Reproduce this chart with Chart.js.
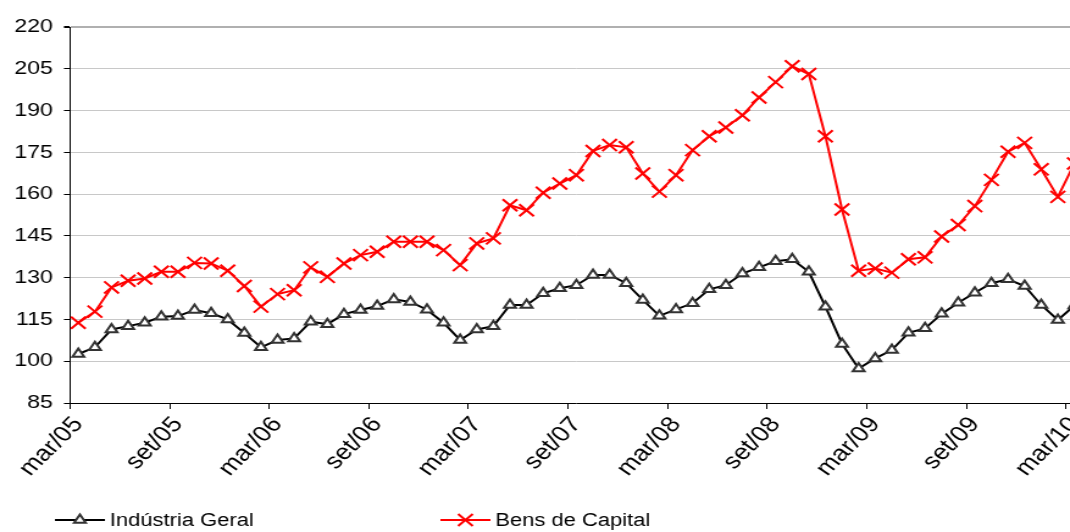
<!DOCTYPE html>
<html>
<head>
<meta charset="utf-8">
<script src="https://cdn.jsdelivr.net/npm/chart.js@4"></script>
<style>
  html, body { margin: 0; padding: 0; background: #fff; width: 1070px; height: 532px; overflow: hidden; }
  #wrap { position: absolute; left: 0; top: 0; width: 904px; height: 532px; transform: scaleX(1.22); transform-origin: 0 0; }
</style>
</head>
<body>
<div id="wrap"><canvas id="chart"></canvas></div>
<script>
// monthly categories, mar/05 .. mar/10
const months = [
  "mar/05","abr/05","mai/05","jun/05","jul/05","ago/05","set/05","out/05","nov/05","dez/05",
  "jan/06","fev/06","mar/06","abr/06","mai/06","jun/06","jul/06","ago/06","set/06","out/06","nov/06","dez/06",
  "jan/07","fev/07","mar/07","abr/07","mai/07","jun/07","jul/07","ago/07","set/07","out/07","nov/07","dez/07",
  "jan/08","fev/08","mar/08","abr/08","mai/08","jun/08","jul/08","ago/08","set/08","out/08","nov/08","dez/08",
  "jan/09","fev/09","mar/09","abr/09","mai/09","jun/09","jul/09","ago/09","set/09","out/09","nov/09","dez/09",
  "jan/10","fev/10","mar/10"
];

const industriaGeral = [
  102.6, 105.0, 111.4, 112.6, 113.8, 116.0, 116.2, 118.4, 117.2, 115.0,
  110.1, 105.0, 107.6, 108.2, 114.2, 113.3, 116.9, 118.4, 119.8, 122.2, 121.3, 118.5,
  113.8, 107.6, 111.4, 112.6, 120.2, 120.2, 124.4, 126.2, 127.3, 131.0, 131.0, 128.0,
  122.0, 116.3, 118.6, 120.8, 125.8, 127.3, 131.5, 133.7, 135.9, 136.6, 132.1, 119.6,
  106.2, 97.4, 101.0, 104.0, 110.2, 111.8, 117.0, 121.0, 124.6, 128.0, 129.4, 127.0,
  120.2, 114.8, 120.0
];

const bensCapital = [
  113.8, 117.8, 126.5, 128.9, 129.7, 132.1, 132.1, 135.3, 135.1, 132.5,
  127.0, 119.6, 124.1, 125.5, 133.7, 130.3, 135.1, 138.1, 139.3, 142.9, 142.9, 142.9,
  139.9, 134.5, 142.3, 144.1, 156.0, 154.2, 160.5, 163.8, 166.8, 175.5, 177.6, 176.8,
  167.4, 160.9, 166.8, 175.8, 180.8, 183.9, 188.3, 194.7, 200.2, 205.9, 203.1, 180.8,
  154.5, 132.5, 133.3, 131.8, 136.6, 137.3, 144.8, 148.9, 155.7, 165.1, 175.2, 178.4,
  168.9, 159.0, 171.0
];

const yTicks = { min: 85, max: 220, step: 15 };

Chart.defaults.font.family = '"Liberation Sans", Arial, sans-serif';
Chart.defaults.font.size = 18;
Chart.defaults.color = "#000";

// legend drawn by hand: line with marker in the middle, then the label
const bottomLegend = {
  id: "bottomLegend",
  afterDraw(chart) {
    const ctx = chart.ctx;
    const items = [
      { x: 45, ds: chart.data.datasets[0] },
      { x: 361, ds: chart.data.datasets[1] }
    ];
    const y = 520;
    ctx.save();
    items.forEach(it => {
      ctx.strokeStyle = it.ds.borderColor;
      ctx.lineWidth = 2;
      ctx.beginPath();
      ctx.moveTo(it.x, y);
      ctx.lineTo(it.x + 41, y);
      ctx.stroke();
      drawMarker(ctx, it.ds, it.x + 20.5, y);
      ctx.fillStyle = "#000";
      ctx.font = '18px "Liberation Sans", Arial, sans-serif';
      ctx.textBaseline = "middle";
      ctx.textAlign = "left";
      ctx.fillText(it.ds.label, it.x + 45, y + 1);
    });
    ctx.restore();
  }
};

function drawMarker(ctx, ds, x, y) {
  const r = ds.pointRadius;
  ctx.lineWidth = ds.pointBorderWidth;
  ctx.strokeStyle = ds.pointBorderColor;
  ctx.beginPath();
  if (ds.pointStyle === "triangle") {
    for (let k = 0; k < 3; k++) {
      const a = k * 2 * Math.PI / 3;
      const px = x + Math.sin(a) * r, py = y - Math.cos(a) * r;
      if (k === 0) ctx.moveTo(px, py); else ctx.lineTo(px, py);
    }
    ctx.closePath();
    ctx.fillStyle = ds.pointBackgroundColor;
    ctx.fill();
  } else {
    const d = r * Math.SQRT1_2;
    ctx.moveTo(x - d, y - d); ctx.lineTo(x + d, y + d);
    ctx.moveTo(x - d, y + d); ctx.lineTo(x + d, y - d);
  }
  ctx.stroke();
}

new Chart(document.getElementById("chart"), {
  type: "line",
  data: {
    labels: months,
    datasets: [
      {
        label: "Indústria Geral",
        data: industriaGeral,
        borderColor: "#000",
        borderWidth: 2,
        pointStyle: "triangle",
        pointRadius: 5.5,
        pointBorderWidth: 2,
        pointBorderColor: "#333",
        pointBackgroundColor: "#fff",
        tension: 0
      },
      {
        label: "Bens de Capital",
        data: bensCapital,
        borderColor: "#ff0000",
        borderWidth: 2,
        pointStyle: "crossRot",
        pointRadius: 8.5,
        pointBorderWidth: 2,
        pointBorderColor: "#ff0000",
        pointBackgroundColor: "#ff0000",
        tension: 0
      }
    ]
  },
  options: {
    responsive: true,
    maintainAspectRatio: false,
    animation: false,
    events: [],
    layout: { padding: { top: 27, right: 0, bottom: 34, left: 0 } },
    plugins: {
      legend: { display: false },
      tooltip: { enabled: false }
    },
    scales: {
      x: {
        offset: true,
        grid: {
          offset: true,
          drawOnChartArea: false,
          tickLength: 6,
          color: c => (c.index % 6 === 0 ? "#000" : "rgba(0,0,0,0)")
        },
        border: { color: "#000", width: 1 },
        ticks: {
          autoSkip: false,
          minRotation: 50,
          maxRotation: 50,
          padding: 3,
          font: { size: 22 },
          callback: (v, i) => (i % 6 === 0 ? months[i] : "")
        },
        afterFit: s => { s.height = 95; }
      },
      y: {
        min: yTicks.min,
        max: yTicks.max,
        grid: {
          color: c => (c.tick && c.tick.value === yTicks.max ? "#b0b0b0" : "#c8c8c8"),
          lineWidth: c => (c.tick && c.tick.value === yTicks.max ? 2 : 1),
          tickColor: "#000",
          tickLength: 5
        },
        border: { color: "#000", width: 1 },
        ticks: { stepSize: yTicks.step, padding: 9, font: { size: 19 } },
        afterFit: s => { s.width = 57.4; }
      }
    }
  },
  plugins: [bottomLegend]
});
</script>
</body>
</html>
